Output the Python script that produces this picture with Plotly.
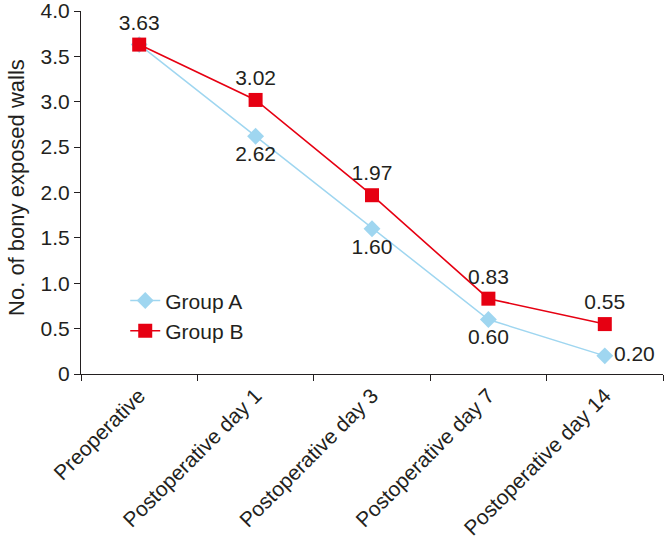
import plotly.graph_objects as go

categories = ["Preoperative", "Postoperative day 1", "Postoperative day 3",
              "Postoperative day 7", "Postoperative day 14"]
group_a = [3.63, 2.62, 1.60, 0.60, 0.20]
group_b = [3.63, 3.02, 1.97, 0.83, 0.55]
ytick_vals = [0, 0.5, 1.0, 1.5, 2.0, 2.5, 3.0, 3.5, 4.0]
ytick_text = ["0", "0.5", "1.0", "1.5", "2.0", "2.5", "3.0", "3.5", "4.0"]
y_title = "No. of bony exposed walls"

a_text = ["", "2.62", "1.60", "0.60", "0.20"]
a_pos = ["bottom center", "bottom center", "bottom center", "bottom center", "middle right"]
b_text = ["3.63", "3.02", "1.97", "0.83", "0.55"]

FONT = "Liberation Sans, Arial, sans-serif"
BLUE = "#9fd6f0"
RED = "#e60012"
INK = "#231f20"
FS = 21

fig = go.Figure()
fig.add_trace(go.Scatter(
    x=categories, y=group_a, name="Group A", mode="lines+markers+text",
    line=dict(color=BLUE, width=1.5),
    marker=dict(symbol="diamond", size=13, color=BLUE),
    text=a_text, textposition=a_pos,
    textfont=dict(family=FONT, size=FS, color=INK),
    cliponaxis=False,
))
fig.add_trace(go.Scatter(
    x=categories, y=group_b, name="Group B", mode="lines+markers+text",
    line=dict(color=RED, width=1.6),
    marker=dict(symbol="square", size=14, color=RED),
    text=b_text, textposition="top center",
    textfont=dict(family=FONT, size=FS, color=INK),
    cliponaxis=False,
))

fig.update_layout(
    width=666, height=547,
    margin=dict(l=81, r=3, t=11, b=173, autoexpand=False),
    plot_bgcolor="white", paper_bgcolor="white",
    font=dict(family=FONT, size=FS, color=INK),
    showlegend=True,
    legend=dict(x=0.076, y=0.258, xanchor="left", yanchor="top",
                bgcolor="rgba(0,0,0,0)", font=dict(size=FS),
                tracegroupgap=0, itemwidth=30),
    annotations=[dict(
        text=y_title, textangle=-90, xref="paper", yref="paper",
        x=0, y=0.153, xanchor="center", yanchor="bottom", xshift=-64,
        showarrow=False, font=dict(family=FONT, size=22, color=INK),
    )],
)
fig.update_xaxes(
    type="category", range=[-0.5, 4.5], automargin=False,
    showline=True, linecolor=INK, linewidth=1.2,
    ticks="outside", tickson="boundaries", ticklen=6, tickcolor=INK,
    tickangle=-45, showgrid=False, zeroline=False,
    tickfont=dict(size=FS),
)
fig.update_yaxes(
    range=[0, 4.0001], tickvals=ytick_vals, ticktext=ytick_text, automargin=False,
    showline=True, linecolor=INK, linewidth=1.2,
    ticks="outside", ticklen=6, tickcolor=INK, ticklabeloverflow="allow",
    showgrid=False, zeroline=False,
    tickfont=dict(size=FS),
)
fig.write_html("out.html", config={"displayModeBar": False},
               post_script="document.body.style.margin='0';")
